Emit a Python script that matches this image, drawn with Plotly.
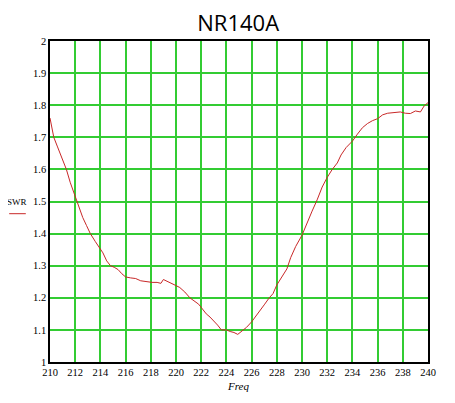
import plotly.graph_objects as go

# SWR sweep
freq = [210.0, 210.3, 210.6, 211.0, 211.3, 211.6, 212.0, 212.3, 212.6, 212.9,
        213.2, 213.6, 213.9, 214.2, 214.5, 214.8, 215.1, 215.4, 215.7, 216.0,
        216.4, 216.8, 217.2, 217.7, 218.1, 218.5, 218.8, 219.0, 219.3, 219.6,
        220.0, 220.3, 220.7, 221.1, 221.5, 221.8, 222.1, 222.4, 222.7, 223.0,
        223.3, 223.6, 224.0, 224.3, 224.6, 224.9, 225.2, 225.6, 226.0, 226.5,
        227.0, 227.4, 227.7, 228.0, 228.4, 228.8, 229.1, 229.5, 230.0, 230.4,
        230.8, 231.2, 231.6, 232.0, 232.4, 232.8, 233.1, 233.5, 234.0, 234.4,
        234.8, 235.2, 235.6, 236.0, 236.4, 236.8, 237.3, 237.8, 238.2, 238.6,
        239.0, 239.4, 239.7, 240.0]
swr = [1.76, 1.70, 1.67, 1.63, 1.60, 1.56, 1.515, 1.48, 1.45, 1.425,
       1.40, 1.375, 1.357, 1.34, 1.315, 1.30, 1.295, 1.288, 1.275, 1.265,
       1.262, 1.26, 1.253, 1.25, 1.248, 1.248, 1.245, 1.257, 1.252, 1.245,
       1.238, 1.232, 1.218, 1.20, 1.187, 1.18, 1.165, 1.15, 1.14, 1.128,
       1.115, 1.10, 1.10, 1.095, 1.092, 1.086, 1.095, 1.108, 1.125, 1.15,
       1.178, 1.20, 1.213, 1.24, 1.265, 1.29, 1.325, 1.36, 1.395, 1.435,
       1.47, 1.505, 1.545, 1.575, 1.60, 1.62, 1.645, 1.668, 1.688, 1.71,
       1.73, 1.743, 1.752, 1.758, 1.77, 1.775, 1.776, 1.779, 1.775, 1.774,
       1.782, 1.779, 1.798, 1.808]

x_ticks = list(range(210, 241, 2))
y_ticks = [1, 1.1, 1.2, 1.3, 1.4, 1.5, 1.6, 1.7, 1.8, 1.9, 2]
y_labels = ["1", "1.1", "1.2", "1.3", "1.4", "1.5", "1.6", "1.7", "1.8", "1.9", "2"]

line_col = "#c82828"
grid_col = "#33cc33"
serif = "Liberation Serif"
tick_font = dict(family=serif, size=10.5, color="black")

fig = go.Figure()
fig.add_trace(go.Scatter(x=freq, y=swr, mode="lines",
                         line=dict(color=line_col, width=1)))

# page body adds an 8px margin, so the figure is 8px smaller than the window
fig.update_layout(
    width=447, height=395,
    margin=dict(l=42, r=27, t=33, b=41),
    paper_bgcolor="white", plot_bgcolor="white",
    showlegend=False,
    title=dict(text="NR140A", x=0.515, xanchor="center", y=0.962, yanchor="middle",
               font=dict(family="Open Sans", size=22, color="black")),
    xaxis=dict(range=[210, 240], tickvals=x_ticks, tickfont=tick_font,
               showgrid=True, gridcolor=grid_col, gridwidth=1.5,
               showline=True, linecolor="black", linewidth=1.5, mirror=True,
               zeroline=False, ticks="", ticklen=0),
    yaxis=dict(range=[1, 2], tickvals=y_ticks, ticktext=y_labels, tickfont=tick_font,
               showgrid=True, gridcolor=grid_col, gridwidth=1.5,
               showline=True, linecolor="black", linewidth=1.5, mirror=True,
               zeroline=False, ticks="", ticklen=0),
    annotations=[
        dict(text="SWR", xref="paper", yref="paper", x=-0.086, y=0.50,
             xanchor="center", yanchor="middle", showarrow=False,
             font=dict(family=serif, size=9, color="black")),
        dict(text="<i>Freq</i>", xref="paper", yref="paper", x=0.497, y=-0.076,
             xanchor="center", yanchor="middle", showarrow=False,
             font=dict(family=serif, size=11, color="black")),
    ],
    shapes=[
        dict(type="line", xref="paper", yref="paper", x0=-0.108, x1=-0.064,
             y0=0.462, y1=0.462, line=dict(color=line_col, width=1)),
    ],
)

fig.write_html("out.html")
